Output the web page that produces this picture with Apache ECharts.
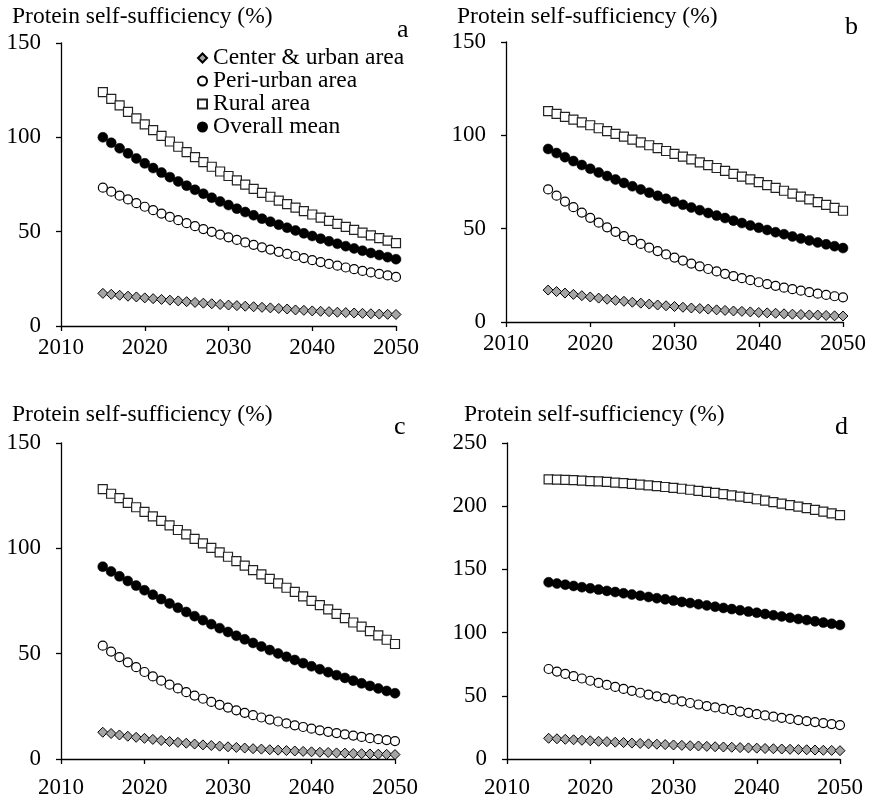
<!DOCTYPE html>
<html>
<head>
<meta charset="utf-8">
<script src="https://cdn.jsdelivr.net/npm/echarts@6/dist/echarts.min.js"></script>
<style>
  html, body { margin: 0; padding: 0; background: #fff; }
  #chart { width: 872px; height: 800px; }
</style>
</head>
<body>
<div id="chart"></div>
<script>
// Years 2015..2050
const years = [2015,2016,2017,2018,2019,2020,2021,2022,2023,2024,2025,2026,2027,2028,2029,2030,2031,2032,2033,2034,2035,2036,2037,2038,2039,2040,2041,2042,2043,2044,2045,2046,2047,2048,2049,2050];

const seriesNames = ['Center & urban area', 'Peri-urban area', 'Rural area', 'Overall mean'];
const panelLetters = ['a', 'b', 'c', 'd'];
const yTitle = 'Protein self-sufficiency (%)';
const xTicks = [2010, 2020, 2030, 2040, 2050];
const yMaxes = [150, 150, 150, 250];

// Panel a
const aCenter = [17.3,16.8,16.3,15.8,15.4,14.9,14.5,14.1,13.7,13.3,12.9,12.5,12.1,11.8,11.4,11.1,10.8,10.5,10.2,9.9,9.6,9.3,9.0,8.5,8.3,8.0,7.8,7.6,7.3,7.1,6.9,6.7,6.5,6.3,6.2,6.1];
const aPeri   = [73.3,71.2,69.1,67.1,65.1,63.2,61.4,59.6,57.8,56.1,54.5,52.9,51.4,49.9,48.4,47.0,45.6,44.3,43.0,41.7,40.5,39.3,38.2,37.1,36.0,34.9,33.9,32.9,32.0,31.0,30.1,29.2,28.4,27.6,26.8,26.0];
const aRural  = [124.0,120.4,116.9,113.5,110.1,106.9,103.8,100.8,97.8,95.0,92.2,89.5,86.9,84.4,81.9,79.5,77.2,74.9,72.7,70.6,68.5,66.5,64.6,62.7,60.9,59.1,57.4,55.7,54.1,52.5,51.0,49.5,48.0,46.6,45.3,43.9];
const aMean   = [100.0,97.1,94.2,91.5,88.8,86.2,83.7,81.3,78.9,76.6,74.4,72.2,70.1,68.0,66.0,64.1,62.2,60.4,58.7,56.9,55.3,53.7,52.1,50.6,49.1,47.7,46.3,44.9,43.6,42.3,41.1,39.9,38.7,37.6,36.5,35.4];

// Panel b
const bCenter = [17.1,16.3,15.5,14.8,14.1,13.4,12.8,12.2,11.6,11.1,10.6,10.1,9.6,9.1,8.7,8.3,7.9,7.5,7.2,6.9,6.5,6.2,5.9,5.7,5.4,5.1,4.9,4.7,4.4,4.2,4.0,3.8,3.7,3.5,3.3,3.2];
const bPeri   = [71.0,67.7,64.5,61.5,58.6,55.8,53.2,50.7,48.3,46.0,43.9,41.8,39.8,38.0,36.2,34.5,32.9,31.3,29.8,28.4,27.1,25.8,24.6,23.5,22.4,21.3,20.3,19.4,18.4,17.6,16.8,16.0,15.2,14.5,13.8,13.2];
const bRural  = [113.0,111.5,109.9,108.4,106.9,105.4,103.8,102.3,100.8,99.3,97.7,96.2,94.7,93.2,91.6,90.1,88.6,87.1,85.5,84.0,82.5,81.0,79.4,77.9,76.4,74.9,73.3,71.8,70.3,68.8,67.2,65.7,64.2,62.7,61.1,59.6];
const bMean   = [92.7,90.5,88.3,86.2,84.1,82.1,80.1,78.2,76.3,74.5,72.7,71.0,69.3,67.6,66.0,64.4,62.8,61.3,59.9,58.4,57.0,55.7,54.3,53.0,51.7,50.5,49.3,48.1,47.0,45.8,44.7,43.7,42.6,41.6,40.6,39.6];

// Panel c
const cCenter = [12.7,12.1,11.4,10.8,10.3,9.8,9.3,8.8,8.3,7.9,7.5,7.1,6.7,6.4,6.1,5.8,5.5,5.2,4.9,4.7,4.4,4.2,4.0,3.8,3.6,3.4,3.2,3.1,2.9,2.8,2.6,2.5,2.4,2.3,2.2,2.1];
const cPeri   = [53.8,51.0,48.4,45.9,43.6,41.3,39.2,37.2,35.3,33.5,31.7,30.1,28.6,27.1,25.7,24.4,23.1,21.9,20.8,19.7,18.7,17.8,16.9,16.0,15.2,14.4,13.6,12.9,12.3,11.7,11.1,10.5,9.9,9.4,9.0,8.5];
const cRural  = [128.1,125.9,123.8,121.6,119.5,117.3,115.2,113.0,110.9,108.7,106.6,104.5,102.4,100.2,98.1,96.0,93.9,91.8,89.7,87.6,85.5,83.4,81.3,79.3,77.2,75.1,73.0,71.0,68.9,66.9,64.8,62.8,60.7,58.7,56.6,54.6];
const cMean   = [91.3,89.0,86.7,84.5,82.3,80.1,78.0,75.9,73.8,71.8,69.8,67.8,65.9,64.0,62.1,60.3,58.5,56.8,55.1,53.4,51.7,50.1,48.5,47.0,45.5,44.0,42.6,41.2,39.8,38.5,37.2,35.9,34.7,33.5,32.3,31.2];

// Panel d
const dCenter = [16.4,16.0,15.6,15.2,14.8,14.4,14.0,13.7,13.3,13.0,12.6,12.3,12.0,11.7,11.4,11.1,10.8,10.5,10.3,10.0,9.7,9.5,9.3,9.0,8.8,8.6,8.3,8.1,7.9,7.7,7.5,7.3,7.1,6.9,6.8,6.6];
const dPeri   = [71.2,69.2,67.3,65.5,63.7,61.9,60.2,58.6,57.0,55.4,53.9,52.4,51.0,49.6,48.2,46.9,45.6,44.3,43.1,41.9,40.8,39.6,38.6,37.5,36.5,35.5,34.5,33.5,32.6,31.7,30.8,30.0,29.2,28.4,27.6,26.8];
const dRural  = [221.3,221.1,220.9,220.6,220.3,219.9,219.6,219.2,218.7,218.2,217.7,217.1,216.5,215.9,215.2,214.5,213.8,213.0,212.2,211.4,210.5,209.5,208.6,207.6,206.6,205.5,204.4,203.3,202.1,200.9,199.6,198.4,197.1,195.7,194.3,192.9];
const dMean   = [139.8,138.8,137.9,136.9,135.9,135.0,134.0,133.0,132.1,131.1,130.1,129.2,128.2,127.2,126.3,125.3,124.3,123.4,122.4,121.5,120.5,119.5,118.6,117.6,116.6,115.7,114.7,113.7,112.8,111.8,110.8,109.9,108.9,107.9,107.0,106.0];

const panelData = [
  [aCenter, aPeri, aRural, aMean],
  [bCenter, bPeri, bRural, bMean],
  [cCenter, cPeri, cRural, cMean],
  [dCenter, dPeri, dRural, dMean]
];

const FONT = "'Liberation Serif', 'Times New Roman', serif";

// Plot rectangles of the four panels
const grids = [
  { left: 61,  top: 43,  width: 335, height: 283 },
  { left: 506, top: 42,  width: 337, height: 280 },
  { left: 61,  top: 443, width: 334, height: 316 },
  { left: 507, top: 443, width: 333, height: 316 }
];
const xLabelMargin = [10, 10, 17, 17];

// Marker appearance per series
const markerStyles = [
  { symbol: 'diamond', symbolSize: 10, itemStyle: { color: '#a5a5a5', borderColor: '#000', borderWidth: 1, opacity: 1 } },
  { symbol: 'circle',  symbolSize: 9,  itemStyle: { color: '#fff', borderColor: '#000', borderWidth: 1.2, opacity: 1 } },
  { symbol: 'rect',    symbolSize: 9,  itemStyle: { color: '#fff', borderColor: '#222', borderWidth: 1.2, opacity: 1 } },
  { symbol: 'circle',  symbolSize: 10, itemStyle: { color: '#000', borderColor: '#000', borderWidth: 0.5, opacity: 1 } }
];

const axisLineStyle = { color: '#000', width: 1.3 };

const option = {
  animation: false,
  backgroundColor: '#fff',
  textStyle: { fontFamily: FONT },
  grid: grids.map(g => Object.assign({ containLabel: false }, g)),
  xAxis: grids.map((g, i) => ({
    type: 'value',
    gridIndex: i,
    min: xTicks[0],
    max: xTicks[xTicks.length - 1],
    interval: 10,
    axisLine: { show: true, onZero: false, lineStyle: axisLineStyle },
    axisTick: { show: true, length: 5, lineStyle: axisLineStyle },
    axisLabel: { fontFamily: FONT, fontSize: 23, color: '#000', margin: xLabelMargin[i], formatter: v => String(v) },
    splitLine: { show: false }
  })),
  yAxis: grids.map((g, i) => ({
    type: 'value',
    gridIndex: i,
    min: 0,
    max: yMaxes[i],
    interval: 50,
    axisLine: { show: true, onZero: false, lineStyle: axisLineStyle },
    axisTick: { show: true, length: 5, lineStyle: axisLineStyle },
    axisLabel: { fontFamily: FONT, fontSize: 23, color: '#000', margin: 20 },
    splitLine: { show: false }
  })),
  title: [
    { text: yTitle, left: 12,  top: 5 },
    { text: yTitle, left: 457, top: 5 },
    { text: yTitle, left: 12,  top: 403 },
    { text: yTitle, left: 464, top: 403 },
    { text: panelLetters[0], left: 397, top: 17 },
    { text: panelLetters[1], left: 845, top: 14 },
    { text: panelLetters[2], left: 394, top: 414 },
    { text: panelLetters[3], left: 835, top: 414 }
  ].map((t, i) => Object.assign({
    padding: 0,
    textStyle: { fontFamily: FONT, fontSize: i < 4 ? 23.5 : 26, fontWeight: 'normal', color: '#000' }
  }, t)),
  legend: {
    orient: 'vertical',
    left: 192,
    top: 41,
    itemWidth: 9,
    itemHeight: 9,
    itemGap: -1,
    textStyle: { fontFamily: FONT, fontSize: 23.5, lineHeight: 20, height: 20, color: '#000', padding: [1, 0, 2, 1] },
    data: seriesNames
  },
  series: []
};

panelData.forEach((vals, p) => {
  vals.forEach((arr, s) => {
    option.series.push(Object.assign({
      type: 'scatter',
      name: seriesNames[s],
      xAxisIndex: p,
      yAxisIndex: p,
      data: years.map((yr, k) => [yr, arr[k]])
    }, markerStyles[s]));
  });
});

const chart = echarts.init(document.getElementById('chart'), null, { renderer: 'canvas' });
chart.setOption(option);
</script>
</body>
</html>
